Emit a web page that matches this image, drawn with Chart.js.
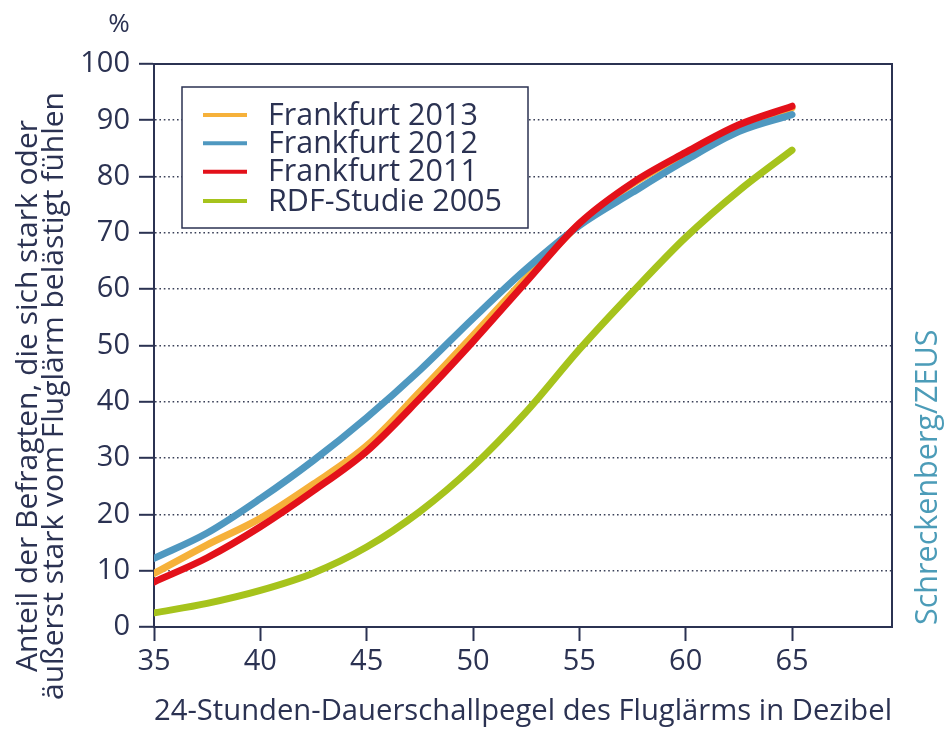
<!DOCTYPE html>
<html><head><meta charset="utf-8">
<script src="https://cdn.jsdelivr.net/npm/chart.js@4"></script>
<style>html,body{margin:0;padding:0;background:#fff;}#wrap{width:944px;height:729px;position:relative}</style>
</head><body><div id="wrap"><canvas id="c" width="944" height="729"></canvas></div>
<script>
// ---- data ----
const dB = [35, 37.5, 40, 42.5, 45, 47.5, 50, 52.5, 55, 57.5, 60, 62.5, 65];
const frankfurt2013 = [9.5, 14.6, 19.3, 25.4, 32.2, 41.8, 51.8, 62.0, 71.5, 78.7, 84.0, 88.8, 92.2];
const frankfurt2012 = [12.2, 16.7, 22.8, 29.6, 37.2, 45.6, 54.8, 63.6, 71.3, 77.2, 82.9, 88.0, 91.0];
const frankfurt2011 = [8.0, 12.3, 17.8, 24.2, 31.2, 40.6, 50.7, 61.3, 71.7, 78.9, 84.3, 89.2, 92.5];
const rdf2005 = [2.5, 4.2, 6.5, 9.6, 14.2, 20.5, 28.5, 38.2, 49.3, 59.5, 69.2, 77.5, 84.7];
const seriesLabels = ['Frankfurt 2013', 'Frankfurt 2012', 'Frankfurt 2011', 'RDF-Studie 2005'];
const xTicks = [35, 40, 45, 50, 55, 60, 65];
const yTicks = [0, 10, 20, 30, 40, 50, 60, 70, 80, 90, 100];
const xTitle = '24-Stunden-Dauerschallpegel des Fluglärms in Dezibel';
const yTitle = ['Anteil der Befragten, die sich stark oder', 'äußerst stark vom Fluglärm belästigt fühlen'];
const unitLabel = '%';
const sourceLabel = 'Schreckenberg/ZEUS';

// ---- styles ----
const NAVY = '#2b3252';
const FONT = '"Open Sans", Roboto, sans-serif';
const colors = ['#f6b13a', '#4f98c0', '#e3111a', '#a6c31c'];
const orders = [2, 1, 0, 3];

const seriesValues = [frankfurt2013, frankfurt2012, frankfurt2011, rdf2005];
const datasets = seriesValues.map((vals, i) => ({
  label: seriesLabels[i],
  data: dB.map((x, j) => ({x: x, y: vals[j]})),
  borderColor: colors[i],
  backgroundColor: colors[i],
  borderWidth: 7,
  borderCapStyle: 'round',
  pointRadius: 0,
  cubicInterpolationMode: 'monotone',
  fill: false,
  order: orders[i]
}));

const decor = {
  id: 'decor',
  afterDraw(chart) {
    const ctx = chart.ctx, a = chart.chartArea;
    ctx.save();
    ctx.strokeStyle = NAVY; ctx.lineWidth = 2;
    ctx.beginPath();
    ctx.moveTo(a.left, a.top); ctx.lineTo(a.right, a.top); ctx.lineTo(a.right, a.bottom);
    ctx.stroke();
    // legend box
    const lx = 182, ly = 87, lw = 346, lh = 141;
    ctx.fillStyle = '#fff';
    ctx.fillRect(lx, ly, lw, lh);
    ctx.lineWidth = 1.5; ctx.strokeStyle = NAVY;
    ctx.strokeRect(lx, ly, lw, lh);
    ctx.font = '30.5px ' + FONT;
    ctx.textBaseline = 'middle'; ctx.textAlign = 'left';
    const rowY = [115, 143.3, 171.7, 201];
    seriesLabels.forEach((lab, i) => {
      ctx.strokeStyle = colors[i]; ctx.lineWidth = 4;
      ctx.beginPath(); ctx.moveTo(203, rowY[i]); ctx.lineTo(247, rowY[i]); ctx.stroke();
      ctx.fillStyle = NAVY;
      ctx.fillText(lab, 268, rowY[i] + 1);
    });
    // unit
    ctx.font = '26px ' + FONT; ctx.fillStyle = NAVY; ctx.textAlign = 'center';
    ctx.fillText(unitLabel, 119, 25);
    // y title
    ctx.save();
    ctx.translate(0, 396); ctx.rotate(-Math.PI / 2);
    ctx.font = '30px ' + FONT; ctx.fillStyle = NAVY; ctx.textAlign = 'center';
    ctx.fillText(yTitle[0], 0, 28);
    ctx.fillText(yTitle[1], 0, 54);
    ctx.restore();
    // source
    ctx.save();
    ctx.translate(928, 625); ctx.rotate(-Math.PI / 2);
    ctx.font = '30.5px ' + FONT; ctx.fillStyle = '#4c9cb8'; ctx.textAlign = 'left';
    ctx.fillText(sourceLabel, 0, 0);
    ctx.restore();
    ctx.restore();
  }
};

new Chart(document.getElementById('c'), {
  type: 'line',
  data: {datasets: datasets},
  plugins: [decor],
  options: {
    responsive: false,
    animation: false,
    layout: {padding: {top: 64, right: 52, left: 0, bottom: 0}},
    plugins: {legend: {display: false}, tooltip: {enabled: false}},
    scales: {
      x: {
        type: 'linear', min: 35, max: 69.7,
        afterBuildTicks: s => { s.ticks = xTicks.map(v => ({value: v})); },
        afterFit: s => { s.height = 102; },
        ticks: {font: {size: 29, family: FONT}, color: NAVY, padding: 3, maxRotation: 0, autoSkip: false},
        grid: {drawOnChartArea: false, drawTicks: true, tickLength: 14, tickColor: NAVY, tickWidth: 2},
        border: {display: true, color: NAVY, width: 2},
        title: {display: true, text: xTitle, font: {size: 29.6, family: FONT}, color: NAVY, padding: {top: 0, bottom: 0}}
      },
      y: {
        type: 'linear', min: 0, max: 100,
        afterBuildTicks: s => { s.ticks = yTicks.map(v => ({value: v})); },
        afterFit: s => { s.width = 154; },
        ticks: {font: {size: 29, family: FONT}, color: NAVY, padding: 9},
        grid: {
          drawOnChartArea: true, drawTicks: true, tickLength: 15,
          color: c => (c.tick && (c.tick.value === 0 || c.tick.value === 100)) ? 'rgba(0,0,0,0)' : '#3a4058',
          lineWidth: 1.6,
          tickColor: NAVY, tickWidth: 2, tickBorderDash: []
        },
        border: {display: true, color: NAVY, width: 2, dash: [1.6, 2.8]}
      }
    }
  }
});
</script></body></html>
